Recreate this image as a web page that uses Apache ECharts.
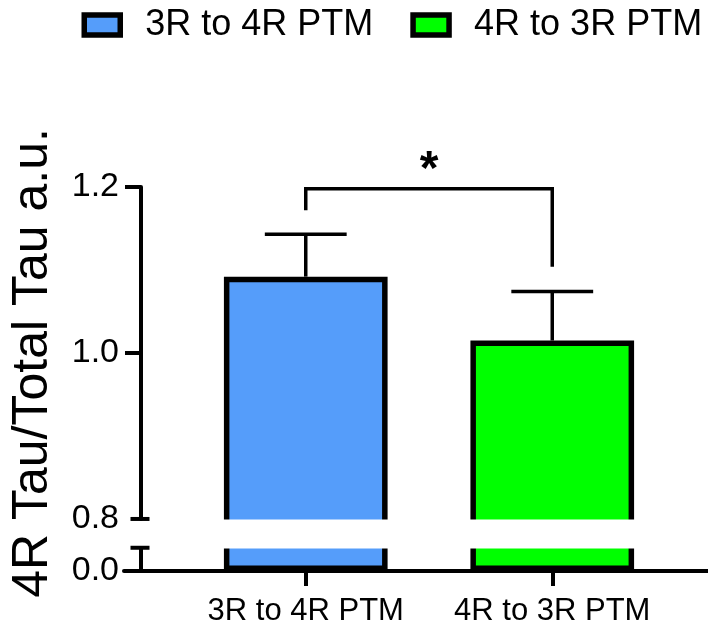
<!DOCTYPE html>
<html><head><meta charset="utf-8">
<script src="https://cdn.jsdelivr.net/npm/echarts@6/dist/echarts.min.js"></script>
<style>html,body{margin:0;padding:0;background:#fff}#c{width:708px;height:627px}</style>
</head><body><div id="c"></div>
<script>
// ---- data ----
const categories = ['3R to 4R PTM', '4R to 3R PTM'];
const seriesNames = ['3R to 4R PTM', '4R to 3R PTM'];
const means = [1.092, 1.015];
const upperErrors = [0.051, 0.059];
const barColors = ['#559DFA', '#00FF00'];
const yTickValues = [0.0, 0.8, 1.0, 1.2];
const yOuterTicks = [1.0, 1.2];
const breakStart = 0.028;
const breakEnd = 0.8;
const sigPair = [0, 1];
const sigBracketY = 1.198;
const sigLegEnds = [1.172, 1.104];
const sigLabel = '*';

// ---- layout ----
const FONT = '"Liberation Sans", Arial, sans-serif';
const GRID = {left: 181.5, right: 32.5, top: 187, bottom: 56};
const Y_OFFSET = 41.5;
const AXIS_W = 4;

const chart = echarts.init(document.getElementById('c'), null, {renderer: 'canvas'});

const barSeries = seriesNames.map((name, i) => ({
  name: name,
  type: 'bar',
  xAxisIndex: 0, yAxisIndex: 0,
  data: categories.map((c, j) => j === i ? means[j] : '-'),
  barWidth: '66.4%',
  barGap: '-100%',
  itemStyle: {color: barColors[i], borderColor: '#000', borderWidth: 5.5},
  z: 2
}));

const errorSeries = {
  type: 'custom',
  xAxisIndex: 0, yAxisIndex: 0,
  data: means.map((m, i) => [i, m, upperErrors[i]]),
  z: 3,
  renderItem: function (params, api) {
    const x = api.value(0), m = api.value(1), e = api.value(2);
    const p0 = api.coord([x, m]);
    const p1 = api.coord([x, m + e]);
    const half = api.size([1, 0])[0] * 0.166;
    const st = {stroke: '#000', lineWidth: 3.5, fill: null};
    return {type: 'group', children: [
      {type: 'line', shape: {x1: p0[0], y1: p0[1], x2: p1[0], y2: p1[1]}, style: st},
      {type: 'line', shape: {x1: p1[0] - half, y1: p1[1], x2: p1[0] + half, y2: p1[1]}, style: st}
    ]};
  }
};

const sigSeries = {
  type: 'custom',
  xAxisIndex: 0, yAxisIndex: 0,
  data: [[sigPair[0], sigPair[1], sigBracketY, sigLegEnds[0], sigLegEnds[1]]],
  z: 3,
  renderItem: function (params, api) {
    const a = api.coord([api.value(0), api.value(2)]);
    const b = api.coord([api.value(1), api.value(2)]);
    const la = api.coord([api.value(0), api.value(3)]);
    const lb = api.coord([api.value(1), api.value(4)]);
    return {type: 'group', children: [
      {type: 'polyline', shape: {points: [[la[0], la[1]], [a[0], a[1]], [b[0], b[1]], [lb[0], lb[1]]]},
       style: {stroke: '#000', lineWidth: 3.5, fill: null}},
      {type: 'text', x: (a[0] + b[0]) / 2, y: a[1] - 18,
       style: {text: sigLabel, font: 'bold 48px ' + FONT, fill: '#000', align: 'center', verticalAlign: 'middle'}}
    ]};
  }
};

const option = {
  animation: false,
  backgroundColor: '#fff',
  textStyle: {fontFamily: FONT, color: '#000'},
  legend: {
    data: seriesNames,
    left: 81.5, top: 7, width: 626,
    padding: 0,
    icon: 'rect',
    itemWidth: 36, itemHeight: 20,
    itemGap: 37,
    itemStyle: {borderColor: '#000', borderWidth: 5.5},
    textStyle: {fontFamily: FONT, fontSize: 36, color: '#000', padding: [0, 0, 0, 20]},
    selectedMode: false
  },
  grid: [
    Object.assign({containLabel: false}, GRID),
    {left: 124, right: 0, top: 187, bottom: 56, containLabel: false}
  ],
  xAxis: [
    {
      type: 'category', gridIndex: 0, data: categories,
      axisLine: {show: false},
      axisTick: {show: true, alignWithLabel: true, length: 15, lineStyle: {color: '#000', width: AXIS_W}},
      axisLabel: {fontFamily: FONT, fontSize: 31, color: '#000', margin: 25, interval: 0},
      splitLine: {show: false}
    },
    {
      type: 'value', gridIndex: 1, min: 0, max: 1,
      axisLine: {show: true, onZero: false, lineStyle: {color: '#000', width: AXIS_W}},
      axisTick: {show: false}, axisLabel: {show: false}, splitLine: {show: false}
    }
  ],
  yAxis: [
    {
      type: 'value', gridIndex: 0, min: 0, max: 1.2, interval: 0.2,
      offset: Y_OFFSET,
      breaks: [{start: breakStart, end: breakEnd, gap: '7.5%'}],
      breakArea: {show: true, itemStyle: {color: '#fff', borderWidth: 0, borderColor: '#fff', opacity: 1},
                  zigzagAmplitude: 0, zigzagZ: 100, expandOnClick: false},
      name: '4R Tau/Total Tau a.u.',
      nameLocation: 'middle', nameGap: 83, nameRotate: 90,
      nameTextStyle: {fontFamily: FONT, fontSize: 50, color: '#000', padding: [0, 0, 0, 32]},
      axisLine: {show: true, lineStyle: {color: '#000', width: AXIS_W}},
      axisTick: {show: true, length: 16, customValues: yOuterTicks, lineStyle: {color: '#000', width: AXIS_W}},
      axisLabel: {fontFamily: FONT, fontSize: 34, color: '#000', margin: 22, customValues: yTickValues,
                  formatter: v => Number(v).toFixed(1)},
      splitLine: {show: false}
    },
    {type: 'value', gridIndex: 1, show: false, min: 0, max: 1}
  ],
  series: barSeries.concat([errorSeries, sigSeries])
};

chart.setOption(option);

// break caps on the y axis line (positions through the axis scale)
const axisX = GRID.left - Y_OFFSET;
const capHalf = 9.5;
const caps = [breakStart, breakEnd].map(v => {
  const py = chart.convertToPixel({yAxisIndex: 0}, v);
  return {type: 'line', shape: {x1: axisX - capHalf, y1: py, x2: axisX + capHalf, y2: py},
          style: {stroke: '#000', lineWidth: AXIS_W}, z: 200};
});
chart.setOption({graphic: caps});
</script>
</body></html>
